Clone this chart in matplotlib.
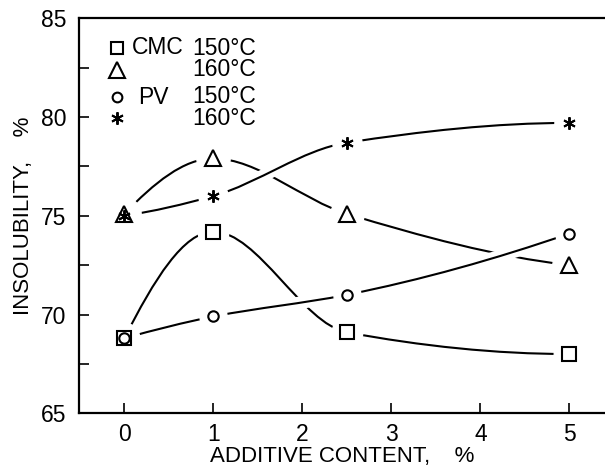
import numpy as np
import matplotlib
matplotlib.use("Agg")
import matplotlib.pyplot as plt
from matplotlib.path import Path
from matplotlib.patches import PathPatch
import matplotlib.patheffects as pe

plt.rcParams['font.family'] = ['Liberation Sans', 'DejaVu Sans']

# ---- data ----
additive = [0, 1, 2.5, 5]
cmc_150 = [68.8, 74.2, 69.1, 68.0]
cmc_160 = [75.1, 77.9, 75.1, 72.5]
pv_150 = [68.8, 69.9, 71.0, 74.1]
pv_160 = [75.0, 76.0, 78.7, 79.7]
x_ticks = [0, 1, 2, 3, 4, 5]
y_ticks = [65, 70, 75, 80, 85]
additive_names = ["CMC", "PV"]
temps = ["150\u00b0C", "160\u00b0C"]


def pchip_slopes(x, y):
    x = np.asarray(x, float); y = np.asarray(y, float)
    h = np.diff(x); d = np.diff(y) / h
    n = len(x); m = np.zeros(n)
    for k in range(1, n - 1):
        if d[k - 1] * d[k] <= 0:
            m[k] = 0.0
        else:
            w1 = 2 * h[k] + h[k - 1]; w2 = h[k] + 2 * h[k - 1]
            m[k] = (w1 + w2) / (w1 / d[k - 1] + w2 / d[k])
    def end(h0, h1, d0, d1):
        s = ((2 * h0 + h1) * d0 - h0 * d1) / (h0 + h1)
        if np.sign(s) != np.sign(d0):
            s = 0.0
        elif np.sign(d0) != np.sign(d1) and abs(s) > abs(3 * d0):
            s = 3 * d0
        return s
    m[0] = end(h[0], h[1], d[0], d[1])
    m[-1] = end(h[-1], h[-2], d[-1], d[-2])
    return m


def smooth_path(x, y):
    m = pchip_slopes(x, y)
    verts = [(x[0], y[0])]
    codes = [Path.MOVETO]
    for k in range(len(x) - 1):
        h = x[k + 1] - x[k]
        verts += [(x[k] + h / 3, y[k] + m[k] * h / 3),
                  (x[k + 1] - h / 3, y[k + 1] - m[k + 1] * h / 3),
                  (x[k + 1], y[k + 1])]
        codes += [Path.CURVE4] * 3
    return Path(verts, codes)


fig = plt.figure(figsize=(6.05, 4.67), dpi=100)
ax = fig.add_axes([0.1306, 0.115, 0.8694, 0.846])
ax.set_xlim(-0.51, 5.40)
ax.set_ylim(65, 85)

STAR = (6, 2, 0)
series = [
    (cmc_150, 's', 10, False),
    (cmc_160, '^', 12, False),
    (pv_150, 'o', 7.5, True),
    (pv_160, STAR, 9, True),
]

# lines
for vals, mk, ms, halo in series:
    patch = PathPatch(smooth_path(additive, vals), facecolor='none',
                      edgecolor='black', lw=1.5, zorder=2 if not halo else 3)
    if halo:
        patch.set_path_effects([pe.Stroke(linewidth=9, foreground='white'), pe.Normal()])
    ax.add_patch(patch)

# white masks around markers
for vals, mk, ms, halo in series:
    ax.plot(additive, vals, linestyle='none', marker='o', markersize=ms + 12,
            markerfacecolor='white', markeredgecolor='white', mew=1, zorder=4)

# markers
for vals, mk, ms, halo in series:
    if mk == STAR:
        ax.plot(additive, vals, linestyle='none', marker=mk, markersize=ms,
                markeredgecolor='black', mew=1.4, zorder=5)
    else:
        ax.plot(additive, vals, linestyle='none', marker=mk, markersize=ms,
                markerfacecolor='none', markeredgecolor='black', mew=1.5, zorder=5)

# axes styling
ax.spines['right'].set_visible(False)
for s in ['left', 'bottom', 'top']:
    ax.spines[s].set_linewidth(1.6)
ax.set_xticks(x_ticks)
ax.set_yticks(y_ticks)
ax.set_yticks([67.5, 72.5, 77.5, 82.5], minor=True)
ax.tick_params(axis='both', which='both', direction='in', length=7, width=1.2,
               labelsize=16.5)
ax.tick_params(axis='x', pad=7)
ax.tick_params(axis='y', pad=9)
ax.set_xlabel("ADDITIVE CONTENT,    %", fontsize=16, labelpad=0)
ax.set_ylabel("INSOLUBILITY,    %", fontsize=16, labelpad=5)

# legend (manual)
row_y = [0.925, 0.869, 0.800, 0.748]
mk_list = [('s', 9), ('^', 11), ('o', 7), (STAR, 9)]
for yy, (mk, ms) in zip(row_y, mk_list):
    if mk == STAR:
        ax.plot([0.072], [yy], transform=ax.transAxes, marker=mk, markersize=ms,
                markeredgecolor='black', mew=1.4, linestyle='none', clip_on=False)
    else:
        ax.plot([0.072], [yy], transform=ax.transAxes, marker=mk, markersize=ms,
                markerfacecolor='none', markeredgecolor='black', mew=1.5,
                linestyle='none', clip_on=False)
for i, name in enumerate(additive_names):
    y0 = row_y[2 * i]
    y1 = row_y[2 * i + 1]
    ax.text(0.101 if i == 0 else 0.112, y0, name, transform=ax.transAxes,
            fontsize=16.5, va='center', ha='left')
    ax.text(0.215, (y0 + y1) / 2, "\n".join(temps), transform=ax.transAxes,
            fontsize=16.5, va='center', ha='left', linespacing=0.92)

fig.savefig("out.png", dpi=100)
